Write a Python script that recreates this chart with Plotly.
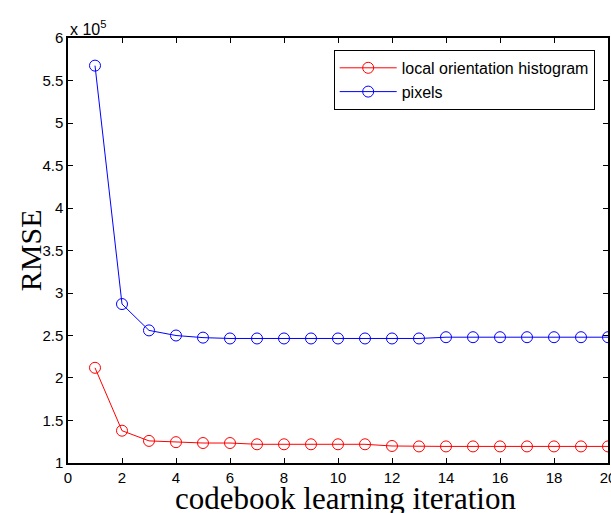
import plotly.graph_objects as go

iterations = list(range(1, 21))
local_orientation_histogram = [212000, 138000, 126000, 124500, 123500, 123500, 122000, 122000, 122000, 122000,
                               122000, 120000, 119500, 119500, 119500, 119500, 119500, 119500, 119500, 119500]
pixels = [567500, 287000, 256000, 250000, 247500, 246500, 246500, 246500, 246500, 246500,
          246500, 246500, 246500, 248000, 248000, 248000, 248000, 248000, 248000, 248000]
x_ticks = list(range(0, 21, 2))
y_ticks = [100000, 150000, 200000, 250000, 300000, 350000, 400000, 450000, 500000, 550000, 600000]
y_ticklabels = ["1", "1.5", "2", "2.5", "3", "3.5", "4", "4.5", "5", "5.5", "6"]

fig = go.Figure()
fig.add_trace(go.Scatter(x=iterations, y=local_orientation_histogram, mode="lines+markers",
                         name="local orientation histogram",
                         line=dict(color="#ff0000", width=1),
                         marker=dict(symbol="circle-open", size=11, color="#ff0000", line=dict(width=1))))
fig.add_trace(go.Scatter(x=iterations, y=pixels, mode="lines+markers", name="pixels",
                         line=dict(color="#0000ff", width=1),
                         marker=dict(symbol="circle-open", size=11, color="#0000ff", line=dict(width=1))))

axis_common = dict(showline=True, linecolor="black", linewidth=1.5, mirror="ticks", ticks="inside",
                   ticklen=5, tickcolor="black", showgrid=False, zeroline=False,
                   ticklabeloverflow="allow", automargin=False,
                   tickfont=dict(family="Liberation Sans, Arial", size=15, color="black"))

fig.update_xaxes(range=[-0.0001, 20.0001], tickvals=x_ticks, **axis_common)
fig.update_yaxes(range=[99990, 600010], tickvals=y_ticks, ticktext=y_ticklabels, **axis_common)

fig.update_layout(
    width=611, height=513,
    margin=dict(l=68, r=3, t=38, b=50),
    paper_bgcolor="white", plot_bgcolor="white",
    showlegend=True,
    legend=dict(x=0.492, y=0.972, xanchor="left", yanchor="top",
                bordercolor="black", borderwidth=1, bgcolor="white",
                font=dict(family="Liberation Sans, Arial", size=16, color="black"),
                tracegroupgap=0, itemwidth=57),
    annotations=[
        dict(text="x 10<sup>5</sup>", xref="paper", yref="paper", x=0.0, y=1.0, xanchor="left",
             yanchor="bottom", yshift=-2, showarrow=False,
             font=dict(family="Liberation Sans, Arial", size=16, color="black")),
        dict(text="codebook learning iteration", xref="paper", yref="paper", x=0.513, y=-0.083,
             xanchor="center", yanchor="middle", showarrow=False,
             font=dict(family="Liberation Serif, Times New Roman", size=31, color="black")),
        dict(text="RMSE", xref="paper", yref="paper", x=-0.069, y=0.5, textangle=-90,
             xanchor="center", yanchor="middle", showarrow=False,
             font=dict(family="Liberation Serif, Times New Roman", size=30, color="black")),
    ],
)

fig.write_html("out.html")
